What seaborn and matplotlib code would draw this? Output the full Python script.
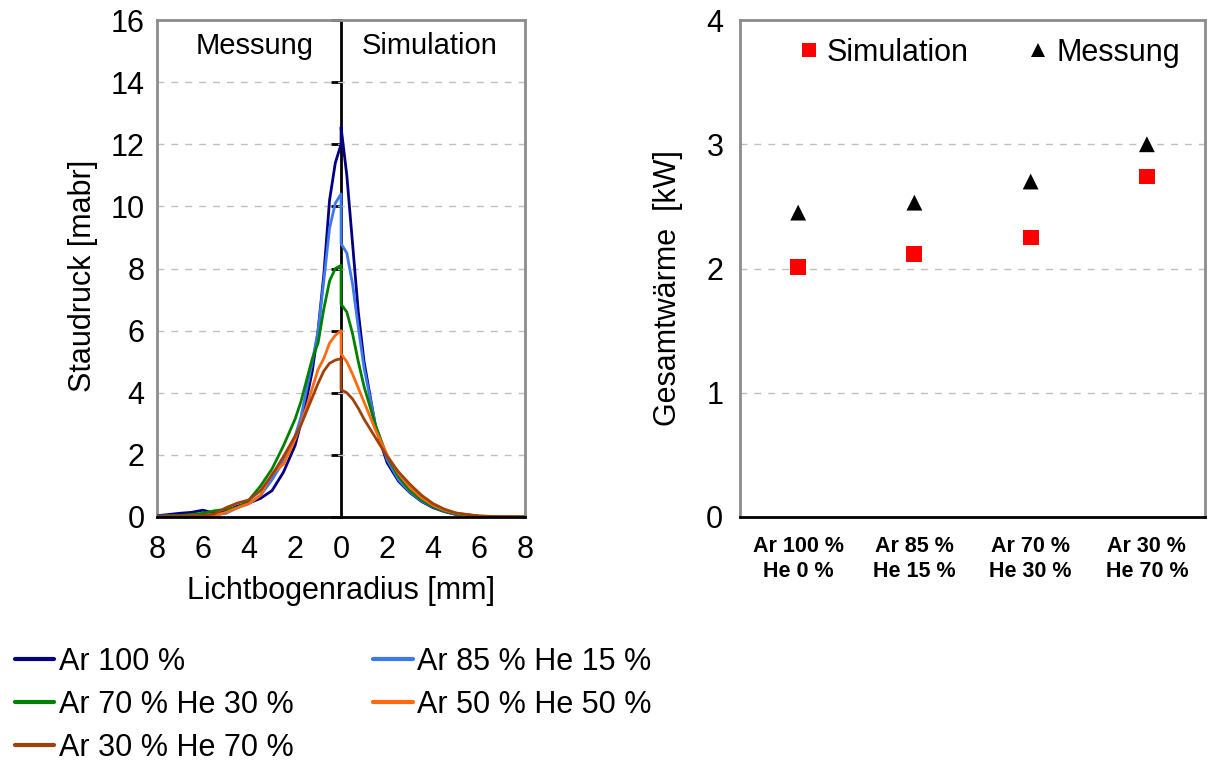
import numpy as np
import pandas as pd
import matplotlib
matplotlib.use("Agg")
import matplotlib.pyplot as plt
import seaborn as sns
from matplotlib.ticker import FuncFormatter
from matplotlib.lines import Line2D

# --- left chart: Staudruck profiles (left half = Messung, right half = Simulation)
x_mess = [-8, -7.5, -7, -6.5, -6, -5.5, -5, -4.5, -4, -3.5, -3, -2.5, -2,
          -1.75, -1.5, -1.25, -1, -0.75, -0.5, -0.25, 0]
x_sim = [0, 0.25, 0.5, 0.75, 1, 1.5, 2, 2.5, 3, 3.5, 4, 4.5, 5, 6, 7, 8]

ar100_mess = [0.04, 0.08, 0.12, 0.15, 0.22, 0.12, 0.2, 0.35, 0.45, 0.6, 0.85, 1.45, 2.3,
              3.0, 3.8, 4.7, 6.0, 7.8, 10.2, 11.4, 12.0]
ar85_mess = [0.03, 0.04, 0.04, 0.05, 0.05, 0.06, 0.12, 0.3, 0.43, 0.7, 1.2, 1.8, 2.6,
             3.2, 4.1, 5.0, 6.0, 7.6, 9.3, 10.1, 10.4]
ar70_mess = [0.02, 0.03, 0.05, 0.08, 0.12, 0.2, 0.25, 0.3, 0.55, 1.0, 1.55, 2.3, 3.15,
             3.7, 4.4, 5.1, 5.6, 6.7, 7.6, 8.0, 8.1]
ar50_mess = [0.02, 0.02, 0.02, 0.03, 0.04, 0.05, 0.15, 0.3, 0.43, 0.7, 1.4, 1.7, 2.5,
             3.0, 3.55, 4.15, 4.75, 5.1, 5.6, 5.85, 6.0]
ar30_mess = [0.02, 0.02, 0.03, 0.03, 0.05, 0.1, 0.3, 0.45, 0.55, 0.85, 1.35, 1.95, 2.6,
             2.95, 3.4, 3.85, 4.3, 4.7, 4.95, 5.05, 5.1]

ar100_sim = [12.55, 11.0, 8.8, 6.6, 5.0, 2.9, 1.75, 1.15, 0.78, 0.5, 0.3, 0.17, 0.08, 0.02, 0.0, 0.0]
ar85_sim = [8.8, 8.5, 7.5, 6.1, 4.8, 2.95, 1.85, 1.2, 0.8, 0.52, 0.32, 0.18, 0.09, 0.02, 0.0, 0.0]
ar70_sim = [6.85, 6.6, 5.9, 5.0, 4.2, 2.95, 1.95, 1.3, 0.85, 0.55, 0.33, 0.19, 0.1, 0.03, 0.0, 0.0]
ar50_sim = [5.25, 5.0, 4.6, 4.15, 3.7, 2.8, 2.0, 1.4, 0.95, 0.62, 0.38, 0.22, 0.12, 0.03, 0.01, 0.0]
ar30_sim = [4.1, 4.0, 3.8, 3.5, 3.15, 2.55, 1.95, 1.45, 1.05, 0.7, 0.43, 0.25, 0.13, 0.03, 0.01, 0.0]

series_names = ["Ar 100 %", "Ar 85 % He 15 %", "Ar 70 % He 30 %",
                "Ar 50 % He 50 %", "Ar 30 % He 70 %"]
series_colors = ["#000080", "#3c78f0", "#008000", "#ff6a10", "#a0400a"]
mess_values = [ar100_mess, ar85_mess, ar70_mess, ar50_mess, ar30_mess]
sim_values = [ar100_sim, ar85_sim, ar70_sim, ar50_sim, ar30_sim]

# --- right chart: Gesamtwärme
gas_labels = ["Ar 100 %\nHe 0 %", "Ar 85 %\nHe 15 %", "Ar 70 %\nHe 30 %", "Ar 30 %\nHe 70 %"]
waerme_sim = [2.01, 2.12, 2.25, 2.74]
waerme_mess = [2.45, 2.53, 2.70, 3.00]

sns.set_style("white")
plt.rcParams["font.family"] = ["Liberation Sans", "DejaVu Sans"]
plt.rcParams["text.color"] = "black"
plt.rcParams["axes.labelcolor"] = "black"
plt.rcParams["xtick.labelcolor"] = "black"
plt.rcParams["ytick.labelcolor"] = "black"

grid_gray = "#c0c0c0"
frame_gray = "#8c8c8c"

fig = plt.figure(figsize=(12.09, 7.64), dpi=100)

# ---------------- left
ax1 = fig.add_axes([0.1299, 0.3233, 0.3044, 0.6505])

for name, col, ym, ys in zip(series_names, series_colors, mess_values, sim_values):
    df = pd.DataFrame({
        "r": list(x_mess) + list(x_sim),
        "p": list(ym) + list(ys),
    })
    sns.lineplot(data=df, x="r", y="p", color=col, linewidth=2.0,
                 sort=False, estimator=None, ax=ax1, zorder=3)

ax1.set_xlim(-8, 8)
ax1.set_ylim(0, 16)
ax1.set_xticks(np.arange(-8, 9, 2))
ax1.set_yticks(np.arange(0, 17, 2))
ax1.xaxis.set_major_formatter(FuncFormatter(lambda v, p: f"{abs(int(round(v)))}"))
for y in range(2, 16, 2):
    ax1.axhline(y, color=grid_gray, linestyle=(0, (5, 5)), linewidth=1, zorder=1)

for s in ["left", "right", "top"]:
    ax1.spines[s].set_color(frame_gray)
    ax1.spines[s].set_linewidth(2)
ax1.spines["bottom"].set_color("black")
ax1.spines["bottom"].set_linewidth(2)
ax1.spines["bottom"].set_zorder(4)

ax1.tick_params(axis="x", direction="out", length=6, width=1.5, color="black",
                labelsize=22, pad=7)
ax1.tick_params(axis="y", direction="out", length=5, width=1, color=frame_gray,
                labelsize=22, pad=4)

mid = ax1.secondary_yaxis(0.5)
mid.set_yticks(np.arange(0, 17, 2))
mid.set_yticklabels([])
mid.tick_params(direction="in", length=7, width=2, color="black")
for s in mid.spines.values():
    s.set_color("black")
    s.set_linewidth(2)

ax1.set_xlabel("Lichtbogenradius [mm]", fontsize=22, labelpad=8)
ax1.set_ylabel("Staudruck [mabr]", fontsize=22)
ax1.yaxis.set_label_coords(-0.16, 0.485)

ax1.text(0.266, 0.948, "Messung", transform=ax1.transAxes, fontsize=21,
         ha="center", va="center")
ax1.text(0.742, 0.948, "Simulation", transform=ax1.transAxes, fontsize=21,
         ha="center", va="center")

handles = [Line2D([0], [0], color=c, linewidth=3) for c in series_colors]
order = [0, 2, 4, 1, 3]
fig.legend([handles[i] for i in order], [series_names[i] for i in order],
           loc="upper left", bbox_to_anchor=(0.012, 1 - 647 / 764), ncol=2,
           frameon=False, fontsize=22, handlelength=1.3, handletextpad=0.15,
           columnspacing=2.6, labelspacing=0.42, borderpad=0, borderaxespad=0)

# ---------------- right
ax2 = fig.add_axes([0.6121, 0.3233, 0.3846, 0.6505])
pos = np.arange(len(gas_labels))
df_w = pd.DataFrame({
    "pos": np.concatenate([pos, pos]),
    "kw": waerme_sim + waerme_mess,
    "Art": ["Simulation"] * len(pos) + ["Messung"] * len(pos),
})
sns.scatterplot(data=df_w, x="pos", y="kw", hue="Art", style="Art",
                palette={"Simulation": "#ff0000", "Messung": "#000000"},
                markers={"Simulation": "s", "Messung": "^"},
                s=130, linewidth=0, ax=ax2, zorder=3)

ax2.set_xlim(-0.5, len(gas_labels) - 0.5)
ax2.set_ylim(0, 4)
ax2.set_yticks([0, 1, 2, 3, 4])
ax2.set_xticks(pos)
ax2.set_xticklabels(gas_labels, fontsize=15.5, fontweight="bold", linespacing=1.2)
ax2.set_xticks(np.arange(-0.5, len(gas_labels), 1), minor=True)
ax2.tick_params(axis="x", which="major", length=0, pad=14)
ax2.tick_params(axis="x", which="minor", direction="out", length=6, width=1.5, color="black")
ax2.tick_params(axis="y", direction="out", length=10, width=1.5, color="black",
                labelsize=22, pad=2)
ax2.yaxis.get_major_ticks()[1].tick1line.set_color(grid_gray)
ax2.yaxis.get_major_ticks()[2].tick1line.set_color(grid_gray)
ax2.yaxis.get_major_ticks()[3].tick1line.set_color(grid_gray)
for y in [1, 2, 3]:
    ax2.axhline(y, color=grid_gray, linestyle=(0, (5, 5)), linewidth=1, zorder=1)
for s in ["left", "right", "top"]:
    ax2.spines[s].set_color(frame_gray)
    ax2.spines[s].set_linewidth(2)
ax2.spines["bottom"].set_color("black")
ax2.spines["bottom"].set_linewidth(2)
ax2.set_xlabel("")
ax2.set_ylabel("Gesamtwärme  [kW]", fontsize=22)
ax2.yaxis.set_label_coords(-0.122, 0.46)

h, l = ax2.get_legend_handles_labels()
ax2.legend(h, l, loc="upper center", bbox_to_anchor=(0.535, 1.02), ncol=2,
           frameon=False, fontsize=22, handlelength=0.7, handletextpad=0.25,
           columnspacing=1.9, markerscale=0.9)

fig.savefig("out.png", dpi=100)
